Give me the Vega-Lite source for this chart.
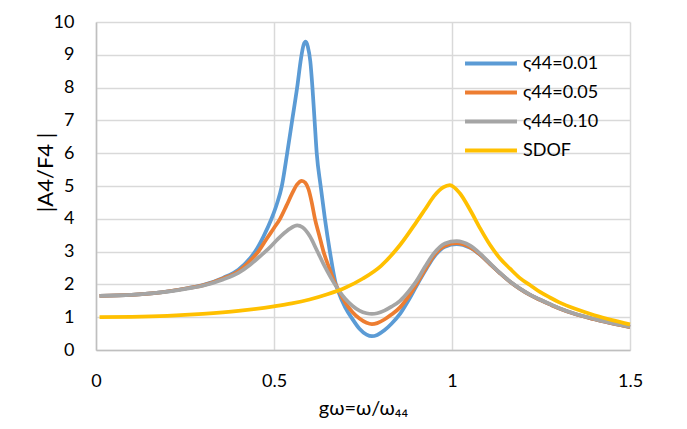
{
  "$schema": "https://vega.github.io/schema/vega-lite/v6.json",
  "width": 534,
  "height": 328,
  "autosize": {"type": "none"},
  "padding": {"left": 96, "top": 22, "right": 57, "bottom": 79},
  "background": "white",
  "config": {
    "view": {"stroke": null},
    "font": "Lato",
    "axis": {
      "labelFont": "Lato", "titleFont": "Lato", "labelColor": "#000000", "titleColor": "#000000",
      "labelFontSize": 18, "titleFontSize": 20, "titleFontWeight": "normal",
      "gridColor": "#D9D9D9", "gridWidth": 1.5, "domainColor": "#BFBFBF", "domainWidth": 1.5, "ticks": false
    },
    "legend": {"labelFont": "Lato", "labelFontSize": 18, "labelColor": "#000000"}
  },
  "data": {"values": [
    {"s":"ς44=0.01","x":0.01,"y":1.65},{"s":"ς44=0.01","x":0.1,"y":1.68},{"s":"ς44=0.01","x":0.17,"y":1.74},{"s":"ς44=0.01","x":0.26,"y":1.89},{"s":"ς44=0.01","x":0.3,"y":1.98},{"s":"ς44=0.01","x":0.357,"y":2.2},{"s":"ς44=0.01","x":0.4,"y":2.45},{"s":"ς44=0.01","x":0.433,"y":2.8},{"s":"ς44=0.01","x":0.447,"y":3.0},{"s":"ς44=0.01","x":0.47,"y":3.45},{"s":"ς44=0.01","x":0.493,"y":4.0},{"s":"ς44=0.01","x":0.508,"y":4.45},{"s":"ς44=0.01","x":0.522,"y":5.0},{"s":"ς44=0.01","x":0.537,"y":6.0},{"s":"ς44=0.01","x":0.551,"y":7.0},{"s":"ς44=0.01","x":0.565,"y":8.0},{"s":"ς44=0.01","x":0.576,"y":8.9},{"s":"ς44=0.01","x":0.583,"y":9.3},{"s":"ς44=0.01","x":0.589,"y":9.4},{"s":"ς44=0.01","x":0.595,"y":9.25},{"s":"ς44=0.01","x":0.602,"y":8.8},{"s":"ς44=0.01","x":0.608,"y":8.0},{"s":"ς44=0.01","x":0.614,"y":7.0},{"s":"ς44=0.01","x":0.62,"y":6.0},{"s":"ς44=0.01","x":0.631,"y":5.0},{"s":"ς44=0.01","x":0.643,"y":4.0},{"s":"ς44=0.01","x":0.657,"y":3.0},{"s":"ς44=0.01","x":0.674,"y":2.0},{"s":"ς44=0.01","x":0.68,"y":1.8},{"s":"ς44=0.01","x":0.7,"y":1.3},{"s":"ς44=0.01","x":0.72,"y":0.95},{"s":"ς44=0.01","x":0.74,"y":0.65},{"s":"ς44=0.01","x":0.76,"y":0.47},{"s":"ς44=0.01","x":0.775,"y":0.42},{"s":"ς44=0.01","x":0.79,"y":0.46},{"s":"ς44=0.01","x":0.81,"y":0.6},{"s":"ς44=0.01","x":0.83,"y":0.8},{"s":"ς44=0.01","x":0.854,"y":1.1},{"s":"ς44=0.01","x":0.877,"y":1.5},{"s":"ς44=0.01","x":0.9,"y":1.95},{"s":"ς44=0.01","x":0.925,"y":2.42},{"s":"ς44=0.01","x":0.948,"y":2.82},{"s":"ς44=0.01","x":0.98,"y":3.15},{"s":"ς44=0.01","x":1.013,"y":3.23},{"s":"ς44=0.01","x":1.05,"y":3.12},{"s":"ς44=0.01","x":1.079,"y":2.9},{"s":"ς44=0.01","x":1.107,"y":2.62},{"s":"ς44=0.01","x":1.135,"y":2.34},{"s":"ς44=0.01","x":1.163,"y":2.08},{"s":"ς44=0.01","x":1.19,"y":1.87},{"s":"ς44=0.01","x":1.219,"y":1.68},{"s":"ς44=0.01","x":1.247,"y":1.53},{"s":"ς44=0.01","x":1.275,"y":1.39},{"s":"ς44=0.01","x":1.3,"y":1.27},{"s":"ς44=0.01","x":1.35,"y":1.08},{"s":"ς44=0.01","x":1.4,"y":0.94},{"s":"ς44=0.01","x":1.45,"y":0.81},{"s":"ς44=0.01","x":1.5,"y":0.7},
    {"s":"ς44=0.05","x":0.01,"y":1.65},{"s":"ς44=0.05","x":0.1,"y":1.68},{"s":"ς44=0.05","x":0.17,"y":1.74},{"s":"ς44=0.05","x":0.26,"y":1.89},{"s":"ς44=0.05","x":0.3,"y":1.97},{"s":"ς44=0.05","x":0.357,"y":2.18},{"s":"ς44=0.05","x":0.4,"y":2.4},{"s":"ς44=0.05","x":0.433,"y":2.72},{"s":"ς44=0.05","x":0.456,"y":3.0},{"s":"ς44=0.05","x":0.48,"y":3.4},{"s":"ς44=0.05","x":0.5,"y":3.72},{"s":"ς44=0.05","x":0.517,"y":4.0},{"s":"ς44=0.05","x":0.535,"y":4.4},{"s":"ς44=0.05","x":0.55,"y":4.75},{"s":"ς44=0.05","x":0.565,"y":5.05},{"s":"ς44=0.05","x":0.578,"y":5.16},{"s":"ς44=0.05","x":0.588,"y":5.1},{"s":"ς44=0.05","x":0.597,"y":4.9},{"s":"ς44=0.05","x":0.606,"y":4.5},{"s":"ς44=0.05","x":0.615,"y":4.0},{"s":"ς44=0.05","x":0.627,"y":3.5},{"s":"ς44=0.05","x":0.639,"y":3.0},{"s":"ς44=0.05","x":0.655,"y":2.5},{"s":"ς44=0.05","x":0.671,"y":2.05},{"s":"ς44=0.05","x":0.68,"y":1.85},{"s":"ς44=0.05","x":0.7,"y":1.45},{"s":"ς44=0.05","x":0.72,"y":1.16},{"s":"ς44=0.05","x":0.74,"y":0.96},{"s":"ς44=0.05","x":0.76,"y":0.83},{"s":"ς44=0.05","x":0.775,"y":0.79},{"s":"ς44=0.05","x":0.79,"y":0.82},{"s":"ς44=0.05","x":0.81,"y":0.93},{"s":"ς44=0.05","x":0.83,"y":1.08},{"s":"ς44=0.05","x":0.854,"y":1.3},{"s":"ς44=0.05","x":0.877,"y":1.62},{"s":"ς44=0.05","x":0.9,"y":2.0},{"s":"ς44=0.05","x":0.925,"y":2.46},{"s":"ς44=0.05","x":0.948,"y":2.86},{"s":"ς44=0.05","x":0.98,"y":3.18},{"s":"ς44=0.05","x":1.013,"y":3.26},{"s":"ς44=0.05","x":1.05,"y":3.14},{"s":"ς44=0.05","x":1.079,"y":2.91},{"s":"ς44=0.05","x":1.107,"y":2.62},{"s":"ς44=0.05","x":1.135,"y":2.34},{"s":"ς44=0.05","x":1.163,"y":2.08},{"s":"ς44=0.05","x":1.19,"y":1.87},{"s":"ς44=0.05","x":1.219,"y":1.68},{"s":"ς44=0.05","x":1.247,"y":1.53},{"s":"ς44=0.05","x":1.275,"y":1.39},{"s":"ς44=0.05","x":1.3,"y":1.27},{"s":"ς44=0.05","x":1.35,"y":1.08},{"s":"ς44=0.05","x":1.4,"y":0.94},{"s":"ς44=0.05","x":1.45,"y":0.81},{"s":"ς44=0.05","x":1.5,"y":0.7},
    {"s":"ς44=0.10","x":0.01,"y":1.65},{"s":"ς44=0.10","x":0.1,"y":1.68},{"s":"ς44=0.10","x":0.17,"y":1.74},{"s":"ς44=0.10","x":0.26,"y":1.88},{"s":"ς44=0.10","x":0.3,"y":1.96},{"s":"ς44=0.10","x":0.357,"y":2.15},{"s":"ς44=0.10","x":0.4,"y":2.35},{"s":"ς44=0.10","x":0.433,"y":2.6},{"s":"ς44=0.10","x":0.46,"y":2.85},{"s":"ς44=0.10","x":0.484,"y":3.08},{"s":"ς44=0.10","x":0.52,"y":3.48},{"s":"ς44=0.10","x":0.545,"y":3.7},{"s":"ς44=0.10","x":0.565,"y":3.8},{"s":"ς44=0.10","x":0.58,"y":3.74},{"s":"ς44=0.10","x":0.6,"y":3.48},{"s":"ς44=0.10","x":0.62,"y":3.05},{"s":"ς44=0.10","x":0.64,"y":2.6},{"s":"ς44=0.10","x":0.66,"y":2.2},{"s":"ς44=0.10","x":0.68,"y":1.85},{"s":"ς44=0.10","x":0.7,"y":1.56},{"s":"ς44=0.10","x":0.72,"y":1.35},{"s":"ς44=0.10","x":0.74,"y":1.2},{"s":"ς44=0.10","x":0.76,"y":1.12},{"s":"ς44=0.10","x":0.775,"y":1.1},{"s":"ς44=0.10","x":0.79,"y":1.12},{"s":"ς44=0.10","x":0.81,"y":1.2},{"s":"ς44=0.10","x":0.83,"y":1.32},{"s":"ς44=0.10","x":0.854,"y":1.5},{"s":"ς44=0.10","x":0.877,"y":1.77},{"s":"ς44=0.10","x":0.9,"y":2.1},{"s":"ς44=0.10","x":0.925,"y":2.55},{"s":"ς44=0.10","x":0.948,"y":2.93},{"s":"ς44=0.10","x":0.98,"y":3.25},{"s":"ς44=0.10","x":1.013,"y":3.32},{"s":"ς44=0.10","x":1.05,"y":3.19},{"s":"ς44=0.10","x":1.079,"y":2.94},{"s":"ς44=0.10","x":1.107,"y":2.64},{"s":"ς44=0.10","x":1.135,"y":2.35},{"s":"ς44=0.10","x":1.163,"y":2.09},{"s":"ς44=0.10","x":1.19,"y":1.88},{"s":"ς44=0.10","x":1.219,"y":1.69},{"s":"ς44=0.10","x":1.247,"y":1.54},{"s":"ς44=0.10","x":1.275,"y":1.4},{"s":"ς44=0.10","x":1.3,"y":1.28},{"s":"ς44=0.10","x":1.35,"y":1.09},{"s":"ς44=0.10","x":1.4,"y":0.95},{"s":"ς44=0.10","x":1.45,"y":0.82},{"s":"ς44=0.10","x":1.5,"y":0.71},
    {"s":"SDOF","x":0.01,"y":1.0},{"s":"SDOF","x":0.1,"y":1.01},{"s":"SDOF","x":0.2,"y":1.04},{"s":"SDOF","x":0.3,"y":1.1},{"s":"SDOF","x":0.4,"y":1.19},{"s":"SDOF","x":0.5,"y":1.33},{"s":"SDOF","x":0.55,"y":1.42},{"s":"SDOF","x":0.6,"y":1.54},{"s":"SDOF","x":0.65,"y":1.7},{"s":"SDOF","x":0.7,"y":1.9},{"s":"SDOF","x":0.75,"y":2.18},{"s":"SDOF","x":0.8,"y":2.56},{"s":"SDOF","x":0.854,"y":3.2},{"s":"SDOF","x":0.9,"y":3.9},{"s":"SDOF","x":0.925,"y":4.3},{"s":"SDOF","x":0.95,"y":4.7},{"s":"SDOF","x":0.975,"y":4.96},{"s":"SDOF","x":0.994,"y":5.03},{"s":"SDOF","x":1.022,"y":4.78},{"s":"SDOF","x":1.051,"y":4.27},{"s":"SDOF","x":1.079,"y":3.71},{"s":"SDOF","x":1.107,"y":3.2},{"s":"SDOF","x":1.135,"y":2.79},{"s":"SDOF","x":1.163,"y":2.48},{"s":"SDOF","x":1.19,"y":2.2},{"s":"SDOF","x":1.219,"y":1.98},{"s":"SDOF","x":1.247,"y":1.77},{"s":"SDOF","x":1.275,"y":1.6},{"s":"SDOF","x":1.3,"y":1.46},{"s":"SDOF","x":1.35,"y":1.24},{"s":"SDOF","x":1.4,"y":1.06},{"s":"SDOF","x":1.45,"y":0.91},{"s":"SDOF","x":1.5,"y":0.78}
  ]},
  "encoding": {
    "x": {"field": "x", "type": "quantitative",
      "scale": {"domain": [0, 1.5], "nice": false},
      "axis": {"values": [0, 0.5, 1, 1.5], "format": "~g", "labelPadding": 22, "title": "gω=ω/ω₄₄", "titleY": 64, "titleBaseline": "alphabetic", "labelFlush": false}},
    "y": {"field": "y", "type": "quantitative",
      "scale": {"domain": [0, 10], "nice": false},
      "axis": {"values": [0,1,2,3,4,5,6,7,8,9,10], "labelPadding": 22, "title": "|A4/F4 |", "titleFontSize": 22, "titleX": -39, "titleY": 150, "domain": true}},
    "color": {"field": "s", "type": "nominal",
      "scale": {"domain": ["ς44=0.01", "ς44=0.05", "ς44=0.10", "SDOF"], "range": ["#5B9BD5", "#ED7D31", "#A5A5A5", "#FFC000"]},
      "legend": {"title": null, "orient": "none", "legendX": 367, "legendY": 27, "symbolType": "stroke", "symbolSize": 2700, "symbolStrokeWidth": 4, "clipHeight": 29, "rowPadding": 0, "labelOffset": 4}}
  },
  "layer": [
    {"transform": [{"filter": "datum.s === 'ς44=0.01'"}], "mark": {"type": "line", "strokeWidth": 3.75, "interpolate": "monotone"}},
    {"transform": [{"filter": "datum.s === 'ς44=0.05'"}], "mark": {"type": "line", "strokeWidth": 3.75, "interpolate": "monotone"}},
    {"transform": [{"filter": "datum.s === 'ς44=0.10'"}], "mark": {"type": "line", "strokeWidth": 3.75, "interpolate": "monotone"}},
    {"transform": [{"filter": "datum.s === 'SDOF'"}], "mark": {"type": "line", "strokeWidth": 3.75, "interpolate": "monotone"}}
  ]
}
